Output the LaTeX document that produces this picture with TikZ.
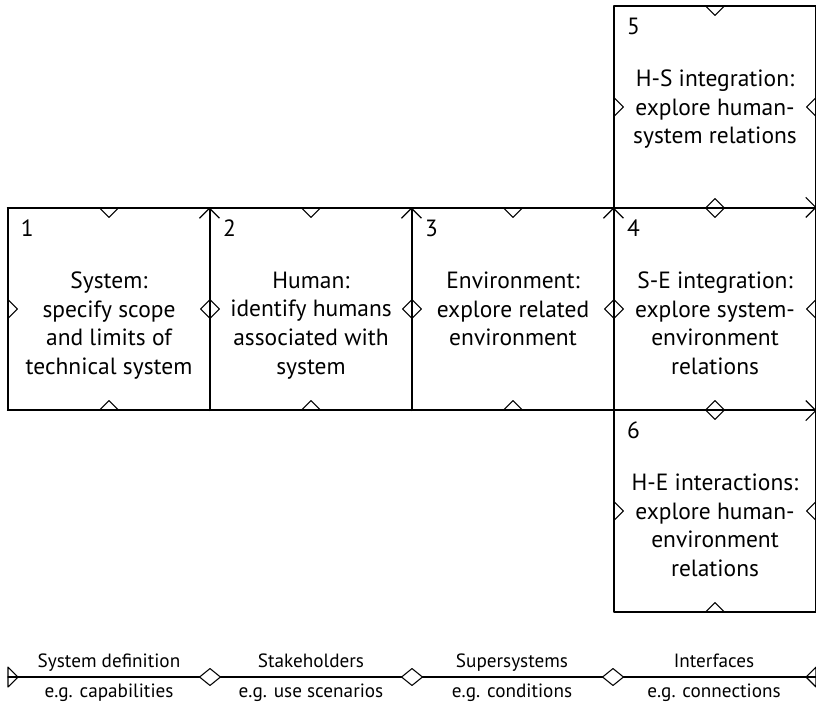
\documentclass[tikz,border=0pt]{standalone}
\usepackage{fontspec}
\setmainfont{PT Sans}
\usetikzlibrary{arrows.meta,positioning,calc,shapes.geometric}

\begin{document}
\begin{tikzpicture}[
  x=0.75pt,
  y=-0.75pt,
  line cap=round,
  line join=round,
  line width=0.9pt,
  unit/.style={draw, minimum width=151.5pt, minimum height=151.5pt, inner sep=0pt},
  unittext/.style={anchor=north, align=center, inner sep=0pt,
    font=\fontsize{17.6}{21.4}\selectfont},
  unitnum/.style={anchor=north west, inner sep=0pt,
    font=\fontsize{17.6}{21.4}\selectfont},
  flow/.style={-{Straight Barb[length=7.5pt,width=15pt]}},
  notch/.style={line width=0.8pt},
  joint/.style={draw, shape=diamond, fill=white, line width=0.8pt,
    minimum width=16pt, minimum height=13pt, inner sep=0pt},
  phase/.style={inner sep=0pt, anchor=base, font=\fontsize{14.4}{16}\selectfont}
]

\useasboundingbox (0,0) rectangle (816,703);

% Activity boxes: the row first, then above and below the last one
\node[unit] (sys) at (109,309) {};
\node[unit] (hum) at (311,309) {};
\node[unit] (env) at (513,309) {};
\node[unit] (se)  at (715,309) {};
\node[unit] (hs)  at (715,107) {};
\node[unit] (he)  at (715,511) {};

% Box texts
\node[unittext] (sys-text) at ($(sys.north)+(0,64)$)
  {System:\\specify scope\\and limits of\\technical system};
\node[unittext] (hum-text) at ($(hum.north)+(0,64)$)
  {Human:\\identify humans\\associated with\\system};
\node[unittext] (env-text) at ($(env.north)+(0,64)$)
  {Environment:\\explore related\\environment};
\node[unittext] (se-text) at ($(se.north)+(0,64)$)
  {S-E integration:\\explore system-\\environment\\relations};
\node[unittext] (hs-text) at ($(hs.north)+(0,64)$)
  {H-S integration:\\explore human-\\system relations};
\node[unittext] (he-text) at ($(he.north)+(0,64)$)
  {H-E interactions:\\explore human-\\environment\\relations};

% Box numbers
\foreach \b/\n in {sys/1, hum/2, env/3, se/4, hs/5, he/6}{
  \node[unitnum] (\b-num) at ($(\b.north west)+(13,12)$) {\n};
}

% Notches on every side; neighbours meet as diamonds
\foreach \b in {sys, hum, env, se, hs, he}{
  \draw[notch] ($(\b.north)+(-10,0)$) -- ++(10,10) -- ++(10,-10);
  \draw[notch] ($(\b.south)+(-10,0)$) -- ++(10,-10) -- ++(10,10);
  \draw[notch] ($(\b.west)+(0,-10)$) -- ++(10,10) -- ++(-10,10);
  \draw[notch] ($(\b.east)+(0,-10)$) -- ++(-10,10) -- ++(10,10);
}

% Flow along the edges
\draw[flow] (sys.north west) -- (se.north east);
\draw[flow] (sys.south west) -- (se.south east);
\foreach \b in {hum, env, se}{
  \draw[flow] (\b.south west) -- (\b.north west);
}

% Phase line at the bottom
\coordinate (start) at (8,677);
\coordinate (stop) at (816,677);
\draw (start) -- (stop);
\draw[notch] ($(start)+(0,-10)$) -- ($(start)+(0,10)$)
  -- ($(start)+(10,0)$) -- cycle;
\draw[notch] ($(stop)+(0,-10)$) -- ($(stop)+(-10,0)$)
  -- ($(stop)+(0,10)$) -- cycle;
\foreach \x/\n in {210/a, 412/b, 613/c}{
  \node[joint] (joint-\n) at (\x,677) {};
}

% Phase labels
\node[phase] (def-top) at (109,667) {System definition};
\node[phase] (def-bot) at (109,697) {e.g. capabilities};
\node[phase] (stk-top) at (311,667) {Stakeholders};
\node[phase] (stk-bot) at (311,697) {e.g. use scenarios};
\node[phase] (sup-top) at (512,667) {Supersystems};
\node[phase] (sup-bot) at (512,697) {e.g. conditions};
\node[phase] (itf-top) at (714,667) {Interfaces};
\node[phase] (itf-bot) at (714,697) {e.g. connections};

\end{tikzpicture}
\end{document}
